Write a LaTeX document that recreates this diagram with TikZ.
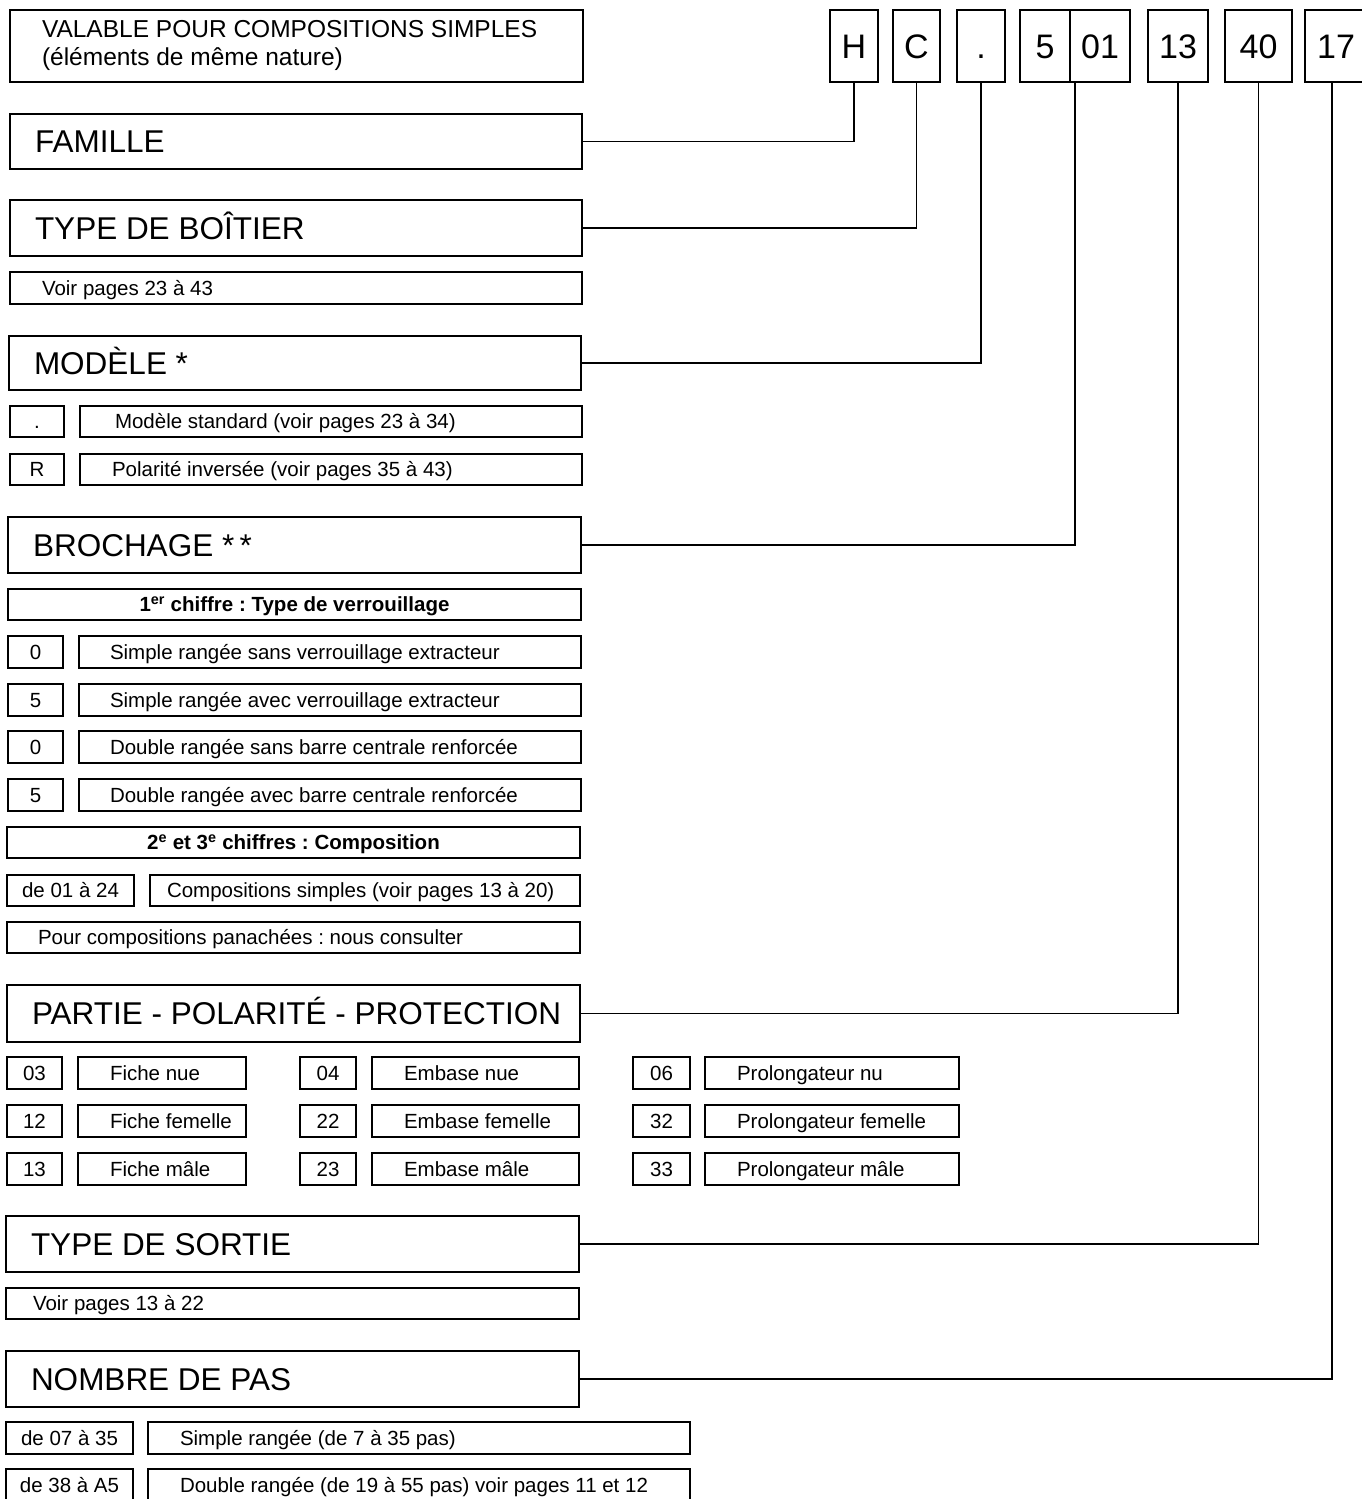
\documentclass[tikz,border=0pt]{standalone}
\usepackage{fontspec}
\setmainfont{Liberation Sans}
\usetikzlibrary{calc}
\frenchspacing
% [align]{style}{name}{x1}{y1}{x2}{y2}{pad}{text}
\newcommand\mybox[9][l]{%
 \pgfmathsetmacro\mbxw{#6-#4}%
 \pgfmathsetmacro\mbxh{#7-#5}%
 \pgfmathsetmacro\mbxt{#6-#4-2*#8}%
 \node[box,anchor=north west,minimum width=\mbxw pt,minimum height=\mbxh pt,inner xsep=#8 pt,inner ysep=0pt,#2] (#3) at (#4,#5) {\makebox[\mbxt pt][#1]{#9}};}
\begin{document}
\begin{tikzpicture}[x=1pt,y=-1pt,
 box/.style={draw,line width=1.8pt,rectangle,outer sep=0pt},
 hdr/.style={font=\fontsize{31.5}{36}\selectfont,text height=22.7pt,text depth=0pt},
 sm/.style={font=\fontsize{20.5}{24}\selectfont,text height=14.8pt,text depth=0pt},
 smb/.style={font=\fontsize{20.5}{24}\selectfont\bfseries,text height=14.8pt,text depth=0pt},
 code/.style={font=\fontsize{34}{40}\selectfont,text height=24.5pt,text depth=0pt},
 note/.style={font=\fontsize{24.5}{27.5}\selectfont},
 conn/.style={line width=1.4pt}]
\useasboundingbox (0,0) rectangle (1361,1499);
% top note
\mybox{note}{valable}{10}{10}{583}{82}{32}{\begin{tabular}{@{}l@{}}VALABLE POUR COMPOSITIONS SIMPLES\\(éléments de même nature)\end{tabular}}
% code boxes
\mybox[c]{code}{H}{830}{10}{878}{82}{0}{H}
\mybox[c]{code}{C}{893}{10}{940}{82}{0}{C}
\mybox[c]{code}{dot}{957}{10}{1005}{82}{0}{.}
\mybox[c]{code}{five}{1020}{10}{1070}{82}{0}{5}
\mybox[c]{code}{z01}{1070}{10}{1130}{82}{0}{01}
\mybox[c]{code}{t13}{1148}{10}{1208}{82}{0}{13}
\mybox[c]{code}{t40}{1225}{10}{1292}{82}{0}{40}
\mybox[c]{code}{t17}{1305}{10}{1367}{82}{0}{17}
\coordinate (c01) at ($(z01.south west)+(5,0)$);
\coordinate (c17) at ($(t17.south west)+(27,0)$);
% FAMILLE
\mybox{hdr}{fam}{10}{114}{582}{169}{25}{FAMILLE}
% TYPE DE BOITIER
\mybox{hdr}{boit}{10}{200}{582}{256}{25}{TYPE DE BOÎTIER}
\mybox{sm}{voir1}{10}{272}{582}{304}{32}{Voir pages 23 à 43}
% MODELE
\mybox{hdr}{mod}{9}{336}{581}{390}{25}{MODÈLE *}
\mybox[c]{sm}{m1c}{10}{406}{64}{437}{0}{.}
\mybox{sm}{m1t}{80}{406}{582}{437}{35}{Modèle standard (voir pages 23 à 34)}
\mybox[c]{sm}{m2c}{10}{454}{64}{485}{0}{R}
\mybox{sm}{m2t}{80}{454}{582}{485}{32}{Polarité inversée (voir pages 35 à 43)}
% BROCHAGE
\mybox{hdr}{broch}{8}{517}{581}{573}{25}{BROCHAGE *\,*}
\mybox[c]{smb}{b1}{8}{589}{581}{620}{0}{1\textsuperscript{er} chiffre : Type de verrouillage}
\mybox[c]{sm}{r1c}{8}{636}{63}{668}{0}{0}
\mybox{sm}{r1t}{79}{636}{581}{668}{31}{Simple rangée sans verrouillage extracteur}
\mybox[c]{sm}{r2c}{8}{684}{63}{716}{0}{5}
\mybox{sm}{r2t}{79}{684}{581}{716}{31}{Simple rangée avec verrouillage extracteur}
\mybox[c]{sm}{r3c}{8}{731}{63}{763}{0}{0}
\mybox{sm}{r3t}{79}{731}{581}{763}{31}{Double rangée sans barre centrale renforcée}
\mybox[c]{sm}{r4c}{8}{779}{63}{811}{0}{5}
\mybox{sm}{r4t}{79}{779}{581}{811}{31}{Double rangée avec barre centrale renforcée}
\mybox[c]{smb}{b2}{7}{827}{580}{858}{0}{2\textsuperscript{e} et 3\textsuperscript{e} chiffres : Composition}
\mybox[c]{sm}{c1c}{7}{875}{134}{906}{0}{de 01 à 24}
\mybox{sm}{c1t}{150}{875}{580}{906}{17}{Compositions simples (voir pages 13 à 20)}
\mybox{sm}{pan}{7}{922}{580}{953}{31}{Pour compositions panachées : nous consulter}
% PARTIE
\mybox{hdr}{part}{7}{985}{580}{1042}{25}{PARTIE - POLARITÉ - PROTECTION}
\mybox[c]{sm}{p11c}{7}{1057}{62}{1089}{0}{03}
\mybox{sm}{p11t}{78}{1057}{246}{1089}{32}{Fiche nue}
\mybox[c]{sm}{p21c}{7}{1105}{62}{1137}{0}{12}
\mybox{sm}{p21t}{78}{1105}{246}{1137}{32}{Fiche femelle}
\mybox[c]{sm}{p31c}{7}{1153}{62}{1185}{0}{13}
\mybox{sm}{p31t}{78}{1153}{246}{1185}{32}{Fiche mâle}
\mybox[c]{sm}{p12c}{300}{1057}{356}{1089}{0}{04}
\mybox{sm}{p12t}{372}{1057}{579}{1089}{32}{Embase nue}
\mybox[c]{sm}{p22c}{300}{1105}{356}{1137}{0}{22}
\mybox{sm}{p22t}{372}{1105}{579}{1137}{32}{Embase femelle}
\mybox[c]{sm}{p32c}{300}{1153}{356}{1185}{0}{23}
\mybox{sm}{p32t}{372}{1153}{579}{1185}{32}{Embase mâle}
\mybox[c]{sm}{p13c}{633}{1057}{690}{1089}{0}{06}
\mybox{sm}{p13t}{705}{1057}{959}{1089}{32}{Prolongateur nu}
\mybox[c]{sm}{p23c}{633}{1105}{690}{1137}{0}{32}
\mybox{sm}{p23t}{705}{1105}{959}{1137}{32}{Prolongateur femelle}
\mybox[c]{sm}{p33c}{633}{1153}{690}{1185}{0}{33}
\mybox{sm}{p33t}{705}{1153}{959}{1185}{32}{Prolongateur mâle}
% TYPE DE SORTIE
\mybox{hdr}{sort}{6}{1216}{579}{1272}{25}{TYPE DE SORTIE}
\mybox{sm}{voir2}{6}{1288}{579}{1319}{27}{Voir pages 13 à 22}
% NOMBRE DE PAS
\mybox{hdr}{nomb}{6}{1351}{579}{1407}{25}{NOMBRE DE PAS}
\mybox[c]{sm}{n1c}{6}{1422}{133}{1454}{0}{de 07 à 35}
\mybox{sm}{n1t}{148}{1422}{690}{1454}{32}{Simple rangée (de 7 à 35 pas)}
\mybox[c]{sm}{n2c}{6}{1469}{133}{1501}{0}{de 38 à A5}
\mybox{sm}{n2t}{148}{1469}{690}{1501}{32}{Double rangée (de 19 à 55 pas) voir pages 11 et 12}
% connectors
\draw[conn] (fam.east) -| (H.south);
\draw[conn] (boit.east) -| (C.south);
\draw[conn] (mod.east) -| (dot.south);
\draw[conn] (broch.east) -| (c01);
\draw[conn] (part.east) -| (t13.south);
\draw[conn] (sort.east) -| (t40.south);
\draw[conn] (nomb.east) -| (c17);
\end{tikzpicture}
\end{document}
